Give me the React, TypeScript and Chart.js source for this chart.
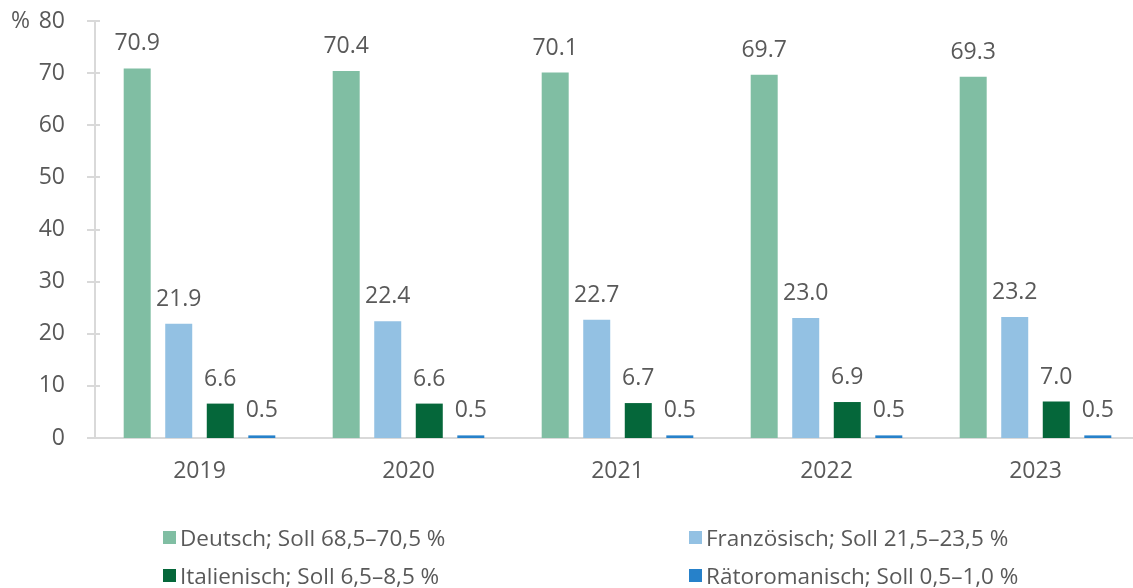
import React, { useEffect, useRef } from "react";
import { Chart, registerables } from "chart.js";

Chart.register(...registerables);

const categories = ["2019", "2020", "2021", "2022", "2023"];
const deutsch = [70.9, 70.4, 70.1, 69.7, 69.3];
const franzoesisch = [21.9, 22.4, 22.7, 23.0, 23.2];
const italienisch = [6.6, 6.6, 6.7, 6.9, 7.0];
const raetoromanisch = [0.5, 0.5, 0.5, 0.5, 0.5];
const seriesNames = [
  "Deutsch; Soll 68,5–70,5 %",
  "Französisch; Soll 21,5–23,5 %",
  "Italienisch; Soll 6,5–8,5 %",
  "Rätoromanisch; Soll 0,5–1,0 %",
];
const colors = ["#80BEA3", "#93C1E3", "#05673A", "#2681CA"];
const yTicks = [0, 10, 20, 30, 40, 50, 60, 70, 80];

const FONT = "'Open Sans', 'Noto Sans', sans-serif";
const TEXT = "#595959";
const AXIS = "#D9D9D9";

const labelPlugin = {
  id: "customLabels",
  afterDatasetsDraw(chart: any) {
    const ctx = chart.ctx;
    ctx.save();
    ctx.font = `23px ${FONT}`;
    ctx.fillStyle = TEXT;
    ctx.textAlign = "center";
    ctx.textBaseline = "alphabetic";
    chart.data.datasets.forEach((ds: any, i: number) => {
      const meta = chart.getDatasetMeta(i);
      meta.data.forEach((bar: any, j: number) => {
        ctx.fillText(ds.data[j].toFixed(1), bar.x, bar.y - 18);
      });
    });
    // % unit label
    ctx.textAlign = "left";
    ctx.textBaseline = "middle";
    ctx.fillText("%", 11, chart.scales.y.getPixelForValue(80));
    // y tick marks crossing the axis
    const y = chart.scales.y;
    const ax = chart.chartArea.left;
    ctx.strokeStyle = AXIS;
    ctx.lineWidth = 2;
    yTicks.forEach((v) => {
      const py = Math.round(y.getPixelForValue(v));
      ctx.beginPath();
      ctx.moveTo(ax - 8, py);
      ctx.lineTo(ax + 5, py);
      ctx.stroke();
    });
    ctx.restore();
  },
};

export default function App() {
  const ref = useRef<HTMLCanvasElement>(null);
  useEffect(() => {
    document.body.style.margin = "0";
    document.body.style.overflow = "hidden";
    document.documentElement.style.overflow = "hidden";
    const chart = new Chart(ref.current!, {
      type: "bar",
      data: {
        labels: categories,
        datasets: [deutsch, franzoesisch, italienisch, raetoromanisch].map((d, i) => ({
          label: seriesNames[i],
          data: d,
          backgroundColor: colors[i],
          borderWidth: 0,
          categoryPercentage: 0.795,
          barPercentage: 0.65,
        })),
      },
      options: {
        animation: false,
        responsive: false,
        maintainAspectRatio: false,
        layout: { autoPadding: false, padding: { left: 0, right: 5, top: 21, bottom: 100 } },
        plugins: { legend: { display: false }, tooltip: { enabled: false } },
        scales: {
          x: {
            grid: { display: false },
            border: { display: true, color: AXIS, width: 2 },
            ticks: { color: TEXT, font: { family: FONT, size: 23 }, padding: 12 },
            afterFit: (s: any) => { s.height = 50; },
          },
          y: {
            min: 0,
            max: 80,
            grid: { display: false },
            border: { display: true, color: AXIS, width: 2 },
            ticks: { stepSize: 10, color: TEXT, font: { family: FONT, size: 23 }, padding: 22 },
            afterFit: (s: any) => { s.width = 95; s.paddingTop = 0; s.paddingBottom = 0; },
          },
        },
      },
      plugins: [labelPlugin],
    });
    return () => chart.destroy();
  }, []);

  const legendItems = [
    { i: 0, left: 163, top: 533 },
    { i: 1, left: 689, top: 533 },
    { i: 2, left: 163, top: 571 },
    { i: 3, left: 689, top: 571 },
  ];

  return (
    <div style={{ position: "absolute", left: 0, top: 0, width: 1145, height: 588 }}>
      <canvas ref={ref} width={1145} height={588} style={{ width: 1145, height: 588, display: "block" }} />
      {legendItems.map(({ i, left, top }) => (
        <div
          key={i}
          style={{
            position: "absolute",
            left,
            top: top - 12,
            height: 32,
            display: "flex",
            alignItems: "center",
            fontFamily: FONT,
            fontSize: 22.5,
            color: TEXT,
            whiteSpace: "nowrap",
          }}
        >
          <span style={{ display: "inline-block", width: 13, height: 13, background: colors[i], marginRight: 4 }} />
          <span>{seriesNames[i]}</span>
        </div>
      ))}
    </div>
  );
}
